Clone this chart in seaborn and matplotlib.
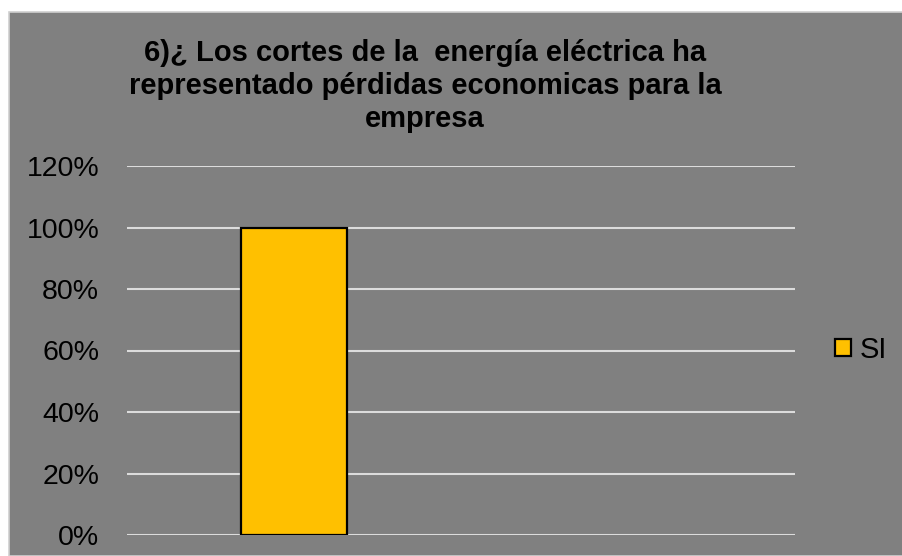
import matplotlib
matplotlib.use("Agg")
import matplotlib.pyplot as plt
from matplotlib.patches import Rectangle
from matplotlib.ticker import PercentFormatter
import seaborn as sns

# data
categories = ["SI"]
values = [1.0]
yticks = [0, 0.2, 0.4, 0.6, 0.8, 1.0, 1.2]
title = "6)¿ Los cortes de la  energía eléctrica ha\nrepresentado pérdidas economicas para la\nempresa"

gray = "#808080"
sns.set_style("whitegrid", {"axes.facecolor": gray, "grid.color": "#dcdcdc"})
plt.rcParams["font.family"] = ["Liberation Sans", "DejaVu Sans"]

fig = plt.figure(figsize=(9.02, 5.56), dpi=100)
fig.patch.set_facecolor("white")
fig.add_artist(Rectangle((9 / 902, 0), 1, 1 - 12 / 556, transform=fig.transFigure,
                         facecolor=gray, edgecolor="#d0d0d0", lw=1.2, zorder=0))

ax = fig.add_axes([127 / 902, 1 - 535 / 556, 668 / 902, (535 - 166) / 556])
ax.set_facecolor(gray)
sns.barplot(x=categories, y=values, color="#FFC000", edgecolor="black",
            linewidth=1.6, width=0.315, saturation=1, ax=ax, label="SI")

ax.set_xlim(-0.5, 1.5)
ax.set_ylim(0, 1.2)
ax.set_yticks(yticks)
ax.yaxis.set_major_formatter(PercentFormatter(1.0, decimals=0))
ax.set_xticks([])
ax.grid(axis="y", color="#dcdcdc", lw=1.5)
ax.grid(axis="x", visible=False)
ax.set_axisbelow(True)
for s in ax.spines.values():
    s.set_visible(False)
ax.tick_params(axis="y", length=0, pad=20, labelsize=20.5, labelcolor="black")
ax.set_xlabel("")
ax.set_ylabel("")

ax.legend(loc="center left", bbox_to_anchor=(835 / 902, 1 - 350 / 556),
          bbox_transform=fig.transFigure, frameon=False, fontsize=21,
          labelcolor="black", handlelength=0.55, handleheight=0.55,
          handletextpad=0.3, borderaxespad=0, borderpad=0)

fig.text(425 / 902, 1 - 86 / 556, title, ha="center", va="center",
         fontsize=21, fontweight="bold", color="black", linespacing=1.22)

fig.savefig("out.png", dpi=100, facecolor=fig.get_facecolor())
